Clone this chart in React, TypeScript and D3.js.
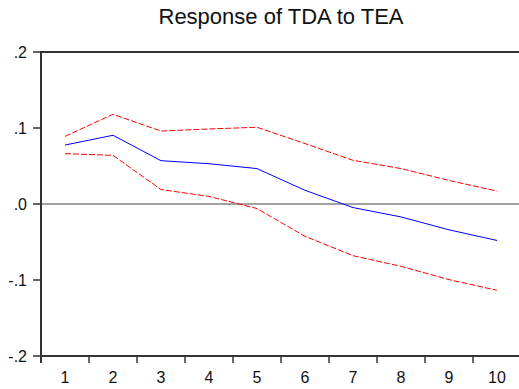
import React from "react";
import * as d3 from "d3";

const periods = [1, 2, 3, 4, 5, 6, 7, 8, 9, 10];
const response = [0.0776, 0.0904, 0.057, 0.053, 0.0466, 0.018, -0.0047, -0.017, -0.034, -0.048];
const upperBand = [0.089, 0.118, 0.096, 0.0987, 0.101, 0.0795, 0.0575, 0.0466, 0.031, 0.017];
const lowerBand = [0.0663, 0.064, 0.019, 0.01, -0.006, -0.0425, -0.068, -0.082, -0.0995, -0.1135];
const yTicks = [0.2, 0.1, 0.0, -0.1, -0.2];
const yTickLabels = [".2", ".1", ".0", "-.1", "-.2"];
const title = "Response of TDA to TEA";

const W = 519;
const H = 389;
const left = 41;
const right = 521;
const top = 52;
const bottom = 356;

export default function App() {
  const x = d3.scaleBand<number>().domain(periods).range([left, right]).padding(0);
  const y = d3.scaleLinear().domain([-0.2, 0.2]).range([bottom, top]);
  const cx = (p: number) => (x(p) as number) + x.bandwidth() / 2;
  const line = d3
    .line<number>()
    .x((_, i) => cx(periods[i]))
    .y((d) => y(d));

  const boundaries = periods.map((p) => x(p) as number).slice(1);

  return (
    <svg
      width={W}
      height={H}
      style={{ position: "absolute", left: 0, top: 0, background: "#fff" }}
      fontFamily="'Liberation Sans', Arial, sans-serif"
    >
      <rect x={0} y={0} width={W} height={H} fill="#fff" />
      <text x={(left + right) / 2} y={23.5} textAnchor="middle" fontSize={22} fill="#111">
        {title}
      </text>
      {/* zero line */}
      <line x1={left} x2={W} y1={y(0)} y2={y(0)} stroke="#444" strokeWidth={1} />
      {/* series */}
      <path d={line(upperBand) || ""} fill="none" stroke="#ff0000" strokeWidth={1} strokeDasharray="6,2" />
      <path d={line(lowerBand) || ""} fill="none" stroke="#ff0000" strokeWidth={1} strokeDasharray="6,2" />
      <path d={line(response) || ""} fill="none" stroke="#0000ff" strokeWidth={1} />
      {/* frame */}
      <line x1={left} x2={W} y1={top} y2={top} stroke="#333" strokeWidth={2} />
      <line x1={left} x2={W} y1={bottom} y2={bottom} stroke="#333" strokeWidth={2} />
      <line x1={left} x2={left} y1={top - 1} y2={bottom + 7} stroke="#333" strokeWidth={2} />
      {/* y ticks */}
      {yTicks.map((t, i) => (
        <g key={"y" + i}>
          <line x1={left - 8} x2={left} y1={y(t)} y2={y(t)} stroke="#333" strokeWidth={1.5} />
          <text x={27} y={y(t)} dy="0.36em" textAnchor="end" fontSize={16} fill="#111">
            {yTickLabels[i]}
          </text>
        </g>
      ))}
      {/* x ticks */}
      {boundaries.map((b, i) => (
        <line key={"xb" + i} x1={b} x2={b} y1={bottom} y2={bottom + 7} stroke="#333" strokeWidth={1.5} />
      ))}
      {periods.map((p) => (
        <text key={"xl" + p} x={cx(p)} y={383} textAnchor="middle" fontSize={16} fill="#111">
          {p}
        </text>
      ))}
    </svg>
  );
}
